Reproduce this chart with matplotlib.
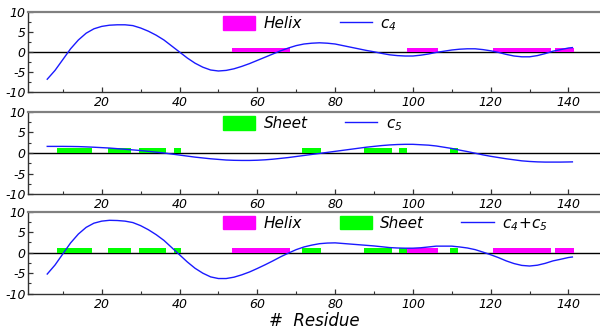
import matplotlib
matplotlib.use("Agg")
import matplotlib.pyplot as plt
from matplotlib.patches import Patch
from matplotlib.lines import Line2D
from matplotlib.ticker import MultipleLocator
import numpy as np

plt.rcParams["font.family"] = "DejaVu Sans"
plt.rcParams["font.style"] = "italic"
plt.rcParams["mathtext.fontset"] = "dejavusans"
plt.rcParams["axes.unicode_minus"] = False

# residue positions where the curves were read
residue = list(range(6, 141, 2)) + [141]

c4 = [-6.8, -4.6, -1.9, 0.8, 3.0, 4.7, 5.8, 6.4, 6.7, 6.8, 6.8, 6.6, 6.0, 5.2,
      4.2, 3.0, 1.5, 0.0, -1.5, -2.8, -3.8, -4.5, -4.75, -4.6, -4.2, -3.6, -2.9,
      -2.1, -1.3, -0.5, 0.3, 1.0, 1.6, 2.0, 2.2, 2.3, 2.2, 2.0, 1.6, 1.2, 0.8,
      0.4, 0.05, -0.35, -0.7, -0.9, -1.0, -1.0, -0.8, -0.5, -0.1, 0.2, 0.5, 0.7,
      0.8, 0.8, 0.6, 0.3, -0.1, -0.6, -1.0, -1.2, -1.2, -0.9, -0.4, 0.2, 0.6,
      1.0, 1.1]

c5 = [1.6, 1.6, 1.6, 1.58, 1.55, 1.48, 1.4, 1.3, 1.2, 1.05, 0.9, 0.75, 0.6, 0.4,
      0.2, 0.0, -0.25, -0.5, -0.75, -1.0, -1.2, -1.4, -1.55, -1.7, -1.77, -1.8,
      -1.8, -1.75, -1.65, -1.5, -1.3, -1.1, -0.85, -0.6, -0.35, -0.1, 0.15, 0.4,
      0.65, 0.9, 1.15, 1.4, 1.6, 1.8, 1.95, 2.05, 2.1, 2.1, 2.0, 1.9, 1.7, 1.4,
      1.1, 0.7, 0.35, -0.05, -0.45, -0.8, -1.1, -1.4, -1.65, -1.9, -2.05, -2.15,
      -2.2, -2.2, -2.2, -2.17, -2.15]

c45 = list(np.array(c4) + np.array(c5))

# secondary structure segments (start, end) in residue units
helix = [(53.5, 68.5), (98.5, 106.5), (120.5, 135.5), (136.5, 141.5)]
sheet = [(8.5, 17.5), (21.5, 27.5), (29.5, 36.5), (38.5, 40.5),
         (71.5, 76.5), (87.5, 94.5), (96.5, 98.5), (109.5, 111.5)]

bar_h = 1.1
helix_col = "#ff00ff"
sheet_col = "#00ff00"
line_col = "#1a1aff"

W, H = 600, 332
fig = plt.figure(figsize=(W / 100, H / 100), dpi=100)

# axes boxes in pixels: (top, bottom)
boxes = [(12, 92), (111.7, 194.3), (211.7, 293.7)]
left_px = 28.3

axes = []
for top, bot in boxes:
    ax = fig.add_axes([left_px / W, 1 - bot / H, 1 - left_px / W, (bot - top) / H])
    axes.append(ax)


def draw_bars(ax, segs, col):
    starts = [s for s, e in segs]
    widths = [e - s for s, e in segs]
    ax.bar(starts, [bar_h] * len(segs), width=widths, align="edge",
           color=col, linewidth=0, zorder=2)


def style(ax):
    ax.set_xlim(1.13, 148.1)
    ax.set_ylim(-10, 10)
    ax.axhline(0, color="black", lw=1.0, zorder=1)
    ax.xaxis.set_major_locator(MultipleLocator(20))
    ax.xaxis.set_minor_locator(MultipleLocator(10))
    ax.yaxis.set_major_locator(MultipleLocator(5))
    ax.yaxis.set_minor_locator(MultipleLocator(2.5))
    ax.tick_params(which="both", direction="in", labelsize=9, pad=3,
                   color="#333333", top=False, right=False)
    ax.tick_params(axis="y", pad=2)
    ax.tick_params(which="major", length=3.5, width=0.9)
    ax.tick_params(which="minor", length=2.5, width=0.8)
    ax.spines["right"].set_visible(False)
    ax.spines["top"].set_color("#808080")
    ax.spines["top"].set_linewidth(1.6)
    for s in ["left", "bottom"]:
        ax.spines[s].set_color("#333333")
        ax.spines[s].set_linewidth(1.0)


def add_legend(ax, handles, labels, y):
    ax.legend(handles, labels, loc="upper left", bbox_to_anchor=(0.341, y),
              ncol=len(handles), frameon=False, fontsize=11,
              handlelength=2.1, handleheight=1.0, handletextpad=0.55,
              columnspacing=2.45, borderpad=0, borderaxespad=0)


helix_patch = Patch(color=helix_col)
sheet_patch = Patch(color=sheet_col)

ax = axes[0]
draw_bars(ax, helix, helix_col)
ax.plot(residue, c4, color=line_col, lw=1.0, zorder=3)
style(ax)
add_legend(ax, [helix_patch, Line2D([], [], color=line_col, lw=1.0)],
           ["Helix", r"$c_4$"], 0.95)

ax = axes[1]
draw_bars(ax, sheet, sheet_col)
ax.plot(residue, c5, color=line_col, lw=1.0, zorder=3)
style(ax)
add_legend(ax, [sheet_patch, Line2D([], [], color=line_col, lw=1.0)],
           ["Sheet", r"$c_5$"], 0.95)

ax = axes[2]
draw_bars(ax, helix, helix_col)
draw_bars(ax, sheet, sheet_col)
ax.plot(residue, c45, color=line_col, lw=1.0, zorder=3)
style(ax)
add_legend(ax, [helix_patch, sheet_patch, Line2D([], [], color=line_col, lw=1.0)],
           ["Helix", "Sheet", r"$c_4\!+\!c_5$"], 0.95)
ax.set_xlabel(r"#  Residue", fontsize=12, labelpad=1)

fig.savefig("out.png", dpi=100)
